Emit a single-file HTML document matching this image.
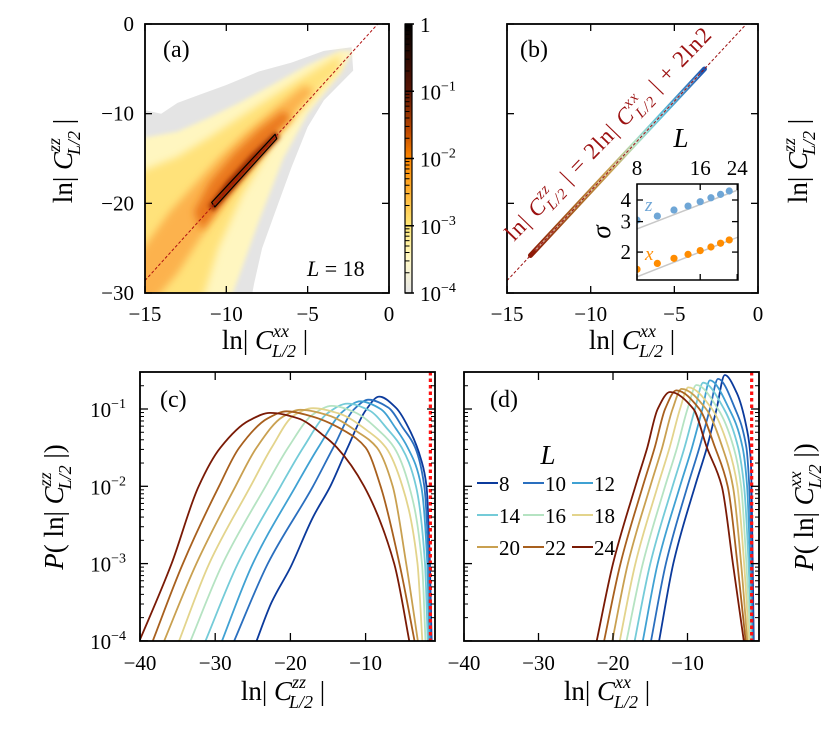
<!DOCTYPE html>
<html><head><meta charset="utf-8"><style>
html,body{margin:0;padding:0;background:#fff;}
svg{display:block;font-family:"Liberation Serif",serif;}
</style></head><body>
<svg id="fig" width="837" height="732" viewBox="0 0 837 732" xmlns="http://www.w3.org/2000/svg">
<defs>
<clipPath id="clipA"><rect x="145" y="24" width="244" height="269"/></clipPath>
<clipPath id="clipB"><rect x="507" y="24" width="251" height="269"/></clipPath>
<clipPath id="clipC"><rect x="140" y="372" width="295" height="269"/></clipPath>
<clipPath id="clipD"><rect x="464" y="372" width="295" height="269"/></clipPath>
<clipPath id="clipI"><rect x="637" y="184" width="101" height="96"/></clipPath>
<filter id="blur4" x="-20%" y="-20%" width="140%" height="140%"><feGaussianBlur stdDeviation="4"/></filter>
<filter id="blur2" x="-20%" y="-20%" width="140%" height="140%"><feGaussianBlur stdDeviation="2"/></filter>
<linearGradient id="cbar" x1="0" y1="0" x2="0" y2="1">
<stop offset="0" stop-color="#000"/><stop offset="0.25" stop-color="#5a1505"/><stop offset="0.4" stop-color="#c04a00"/><stop offset="0.5" stop-color="#ff8800"/><stop offset="0.62" stop-color="#ffb030"/><stop offset="0.75" stop-color="#ffe878"/><stop offset="0.88" stop-color="#fff8c8"/><stop offset="1" stop-color="#e6e6e6"/>
</linearGradient>
</defs>

<!-- Panel a -->
<g id="panelA">
<g id="heatA" clip-path="url(#clipA)"></g>
<rect x="145" y="24" width="244" height="269" fill="none" stroke="#000" stroke-width="1.8"/>
<g id="ticksA"></g>
<text x="163" y="57" font-size="24">(a)</text>
<text x="307" y="276" font-size="22"><tspan font-style="italic">L</tspan> = 18</text>
<text x="265" y="349" font-size="27" text-anchor="middle">ln| <tspan font-style="italic">C</tspan><tspan font-size="18" font-style="italic" dy="-12">xx</tspan><tspan font-size="18" font-style="italic" dx="-17" dy="20">L/2</tspan><tspan dy="-8"> |</tspan></text>
<text transform="translate(72,161) rotate(-90)" font-size="27" text-anchor="middle">ln| <tspan font-style="italic">C</tspan><tspan font-size="18" font-style="italic" dy="-12">zz</tspan><tspan font-size="18" font-style="italic" dx="-17" dy="20">L/2</tspan><tspan dy="-8"> |</tspan></text>
<rect x="405" y="24" width="7" height="269" fill="url(#cbar)" stroke="#000" stroke-width="1.2"/>
<g id="cbTicks"></g>
</g>

<!-- Panel b -->
<g id="panelB">
<g id="bandB" clip-path="url(#clipB)"></g>
<rect x="507" y="24" width="251" height="269" fill="none" stroke="#000" stroke-width="1.8"/>
<g id="ticksB"></g>
<text x="520" y="57" font-size="24">(b)</text>
<text transform="translate(514,242) rotate(-46)" font-size="23" fill="#9b1010" textLength="286" lengthAdjust="spacing">ln| <tspan font-style="italic">C</tspan><tspan font-size="15" font-style="italic" dy="-10">zz</tspan><tspan font-size="15" font-style="italic" dx="-14" dy="16">L/2</tspan><tspan dy="-6"> | = 2ln| </tspan><tspan font-style="italic">C</tspan><tspan font-size="15" font-style="italic" dy="-10">xx</tspan><tspan font-size="15" font-style="italic" dx="-14" dy="16">L/2</tspan><tspan dy="-6"> | + 2ln2</tspan></text>
<text x="632" y="349" font-size="27" text-anchor="middle">ln| <tspan font-style="italic">C</tspan><tspan font-size="18" font-style="italic" dy="-12">xx</tspan><tspan font-size="18" font-style="italic" dx="-17" dy="20">L/2</tspan><tspan dy="-8"> |</tspan></text>
<text transform="translate(807,161) rotate(-90)" font-size="27" text-anchor="middle">ln| <tspan font-style="italic">C</tspan><tspan font-size="18" font-style="italic" dy="-12">zz</tspan><tspan font-size="18" font-style="italic" dx="-17" dy="20">L/2</tspan><tspan dy="-8"> |</tspan></text>
<g id="inset">
<rect x="637" y="184" width="101" height="96" fill="#fff"/>
<g id="insetMarks" clip-path="url(#clipI)"></g>
<rect x="637" y="184" width="101" height="96" fill="none" stroke="#000" stroke-width="1.5"/>
<g id="ticksI"></g>
<text x="681" y="147" font-size="27" font-style="italic" text-anchor="middle">L</text>
<text transform="translate(610,232) rotate(-90)" font-size="27" font-style="italic" text-anchor="middle">σ</text>
<text x="645" y="211" font-size="19" font-style="italic" fill="#6fa6d6">z</text>
<text x="645" y="260" font-size="19" font-style="italic" fill="#ff8c00">x</text>
</g>
</g>

<!-- Panel c -->
<g id="panelC">
<g id="curvesC" clip-path="url(#clipC)"></g>
<rect x="140" y="372" width="295" height="269" fill="none" stroke="#000" stroke-width="1.8"/>
<g id="ticksC"></g>
<text x="160" y="407" font-size="24">(c)</text>
<text x="283" y="700" font-size="27" text-anchor="middle">ln| <tspan font-style="italic">C</tspan><tspan font-size="18" font-style="italic" dy="-12">zz</tspan><tspan font-size="18" font-style="italic" dx="-17" dy="20">L/2</tspan><tspan dy="-8"> |</tspan></text>
<text transform="translate(63,507) rotate(-90)" font-size="27" text-anchor="middle"><tspan font-style="italic">P</tspan>( ln| <tspan font-style="italic">C</tspan><tspan font-size="18" font-style="italic" dy="-12">zz</tspan><tspan font-size="18" font-style="italic" dx="-17" dy="20">L/2</tspan><tspan dy="-8"> |)</tspan></text>
</g>

<!-- Panel d -->
<g id="panelD">
<g id="curvesD" clip-path="url(#clipD)"></g>
<rect x="464" y="372" width="295" height="269" fill="none" stroke="#000" stroke-width="1.8"/>
<g id="ticksD"></g>
<text x="490" y="407" font-size="24">(d)</text>
<text x="607" y="700" font-size="27" text-anchor="middle">ln| <tspan font-style="italic">C</tspan><tspan font-size="18" font-style="italic" dy="-12">xx</tspan><tspan font-size="18" font-style="italic" dx="-17" dy="20">L/2</tspan><tspan dy="-8"> |</tspan></text>
<text transform="translate(813,507) rotate(-90)" font-size="27" text-anchor="middle"><tspan font-style="italic">P</tspan>( ln| <tspan font-style="italic">C</tspan><tspan font-size="18" font-style="italic" dy="-12">xx</tspan><tspan font-size="18" font-style="italic" dx="-17" dy="20">L/2</tspan><tspan dy="-8"> |)</tspan></text>
<g id="legend">
<text x="548" y="464" font-size="27" font-style="italic" text-anchor="middle">L</text>
</g>
</g>
</svg>
<script>
const NS="http://www.w3.org/2000/svg";
// ---- data ----
const L_VALUES=[8,10,12,14,16,18,20,22,24];
const L_COLORS=["#0b3a9c","#2a6fbf","#3fa1d3","#74cbd8","#b5e3c2","#e3d48c","#c9a050","#a8601e","#7a1a05"];
// panel c: [ln|Czz|, log10 P]
const zz_L8=[[-24.7,-4.05],[-22.5,-3.5],[-20,-3.05],[-17,-2.4],[-14.7,-2],[-12.4,-1.5],[-10,-1.02],[-8.2,-0.84],[-6,-0.98],[-4,-1.3],[-2.6,-1.66],[-1.9,-2],[-1.45,-3],[-1.2,-4.1]];
const zz_L10=[[-27.7,-4.05],[-23,-3],[-17,-2],[-14.3,-1.5],[-11.5,-1.0],[-9.6,-0.88],[-7,-0.98],[-5,-1.25],[-3.4,-1.5],[-2.2,-2],[-1.6,-3],[-1.3,-4.1]];
const zz_L12=[[-29.3,-4.05],[-25,-3],[-19.3,-2],[-16.3,-1.5],[-13,-1.03],[-10.7,-0.9],[-8,-1.0],[-6,-1.25],[-4.4,-1.5],[-2.6,-2],[-1.8,-3],[-1.5,-4.1]];
const zz_L14=[[-31.5,-4.05],[-27,-3],[-21.3,-2],[-18.3,-1.5],[-15,-1.05],[-12.4,-0.93],[-9.5,-1.02],[-7,-1.27],[-5.2,-1.5],[-3.3,-2],[-2.1,-3],[-1.7,-4.1]];
const zz_L16=[[-33.5,-4.05],[-29,-3],[-23.3,-2],[-20.3,-1.5],[-17,-1.07],[-14.5,-0.96],[-11.5,-1.04],[-8,-1.3],[-6.2,-1.5],[-4.2,-2],[-2.5,-3],[-2.0,-4.1]];
const zz_L18=[[-35,-4.05],[-30.8,-3],[-25.3,-2],[-22.5,-1.5],[-19.5,-1.08],[-17,-0.99],[-13.5,-1.06],[-9.5,-1.3],[-7.3,-1.5],[-5.1,-2],[-3.1,-3],[-2.4,-4.1]];
const zz_L20=[[-37,-4.05],[-32.5,-3],[-27.3,-2],[-24.5,-1.5],[-21,-1.1],[-18.7,-1.01],[-15,-1.08],[-11,-1.3],[-8.5,-1.5],[-6.4,-2],[-4.6,-3],[-2.9,-4.1]];
const zz_L22=[[-38.5,-4.05],[-34.3,-3],[-29.5,-2],[-26.8,-1.5],[-23,-1.12],[-20.5,-1.03],[-17,-1.1],[-12.5,-1.3],[-10,-1.5],[-8,-2],[-5.5,-3],[-3.3,-4.1]];
const zz_L24=[[-40.5,-4.1],[-35.8,-3],[-32.2,-2],[-29.3,-1.5],[-25.5,-1.15],[-22.7,-1.05],[-19,-1.12],[-15.5,-1.35],[-13.8,-1.5],[-10.2,-2],[-6.2,-3],[-4.0,-4.1]];
// panel d: [ln|Cxx|, log10 P]
const xx_L8=[[-13.9,-4.05],[-11.9,-3],[-9,-2],[-7.4,-1.5],[-6.1,-1.0],[-5,-0.56],[-3.4,-0.79],[-2.1,-1.23],[-1.5,-1.66],[-1.25,-3],[-1.1,-4.1]];
const xx_L10=[[-15,-4.05],[-12.9,-3],[-10,-2],[-8.4,-1.5],[-7.0,-1.0],[-5.9,-0.61],[-3.6,-1.0],[-2.1,-1.5],[-1.7,-2],[-1.4,-3],[-1.2,-4.1]];
const xx_L12=[[-16.1,-4.05],[-14,-3],[-11,-2],[-9.4,-1.5],[-8.0,-1.0],[-7.0,-0.63],[-4.4,-1.0],[-2.6,-1.5],[-2.0,-2],[-1.6,-3],[-1.3,-4.1]];
const xx_L14=[[-17.2,-4.05],[-15,-3],[-12,-2],[-10.4,-1.5],[-9.0,-1.0],[-7.9,-0.66],[-5.1,-1.0],[-3.2,-1.5],[-2.4,-2],[-1.8,-3],[-1.4,-4.1]];
const xx_L16=[[-18.3,-4.05],[-16,-3],[-13,-2],[-11.4,-1.5],[-10.0,-1.0],[-8.8,-0.69],[-5.9,-1.0],[-3.8,-1.5],[-2.8,-2],[-2.1,-3],[-1.5,-4.1]];
const xx_L18=[[-19.2,-4.05],[-17,-3],[-14,-2],[-12.4,-1.5],[-11.0,-1.0],[-9.9,-0.72],[-6.7,-1.0],[-4.5,-1.5],[-3.3,-2],[-2.4,-3],[-1.7,-4.1]];
const xx_L20=[[-20.2,-4.05],[-18,-3],[-15,-2],[-13.4,-1.5],[-12.0,-1.0],[-10.8,-0.74],[-7.5,-1.0],[-5.3,-1.5],[-3.9,-2],[-2.8,-3],[-1.9,-4.1]];
const xx_L22=[[-21.3,-4.05],[-19,-3],[-16,-2],[-14.4,-1.5],[-13.0,-1.0],[-11.5,-0.76],[-8.4,-1.0],[-6.3,-1.5],[-4.6,-2],[-3.3,-3],[-2.1,-4.1]];
const xx_L24=[[-22.3,-4.05],[-20,-3],[-17,-2],[-15.4,-1.5],[-14.0,-1.0],[-12.35,-0.78],[-9.2,-1.0],[-7.4,-1.5],[-5.4,-2],[-3.9,-3],[-2.3,-4.1]];
const ZZ=[zz_L8,zz_L10,zz_L12,zz_L14,zz_L16,zz_L18,zz_L20,zz_L22,zz_L24];
const XX=[xx_L8,xx_L10,xx_L12,xx_L14,xx_L16,xx_L18,xx_L20,xx_L22,xx_L24];
// inset
const INSET_L=[8,10,12,14,16,18,20,22];
const SIGMA_Z=[3.06,3.23,3.50,3.69,3.91,4.12,4.31,4.51];
const SIGMA_X=[1.59,1.72,1.84,1.94,2.04,2.14,2.25,2.35];
const FIT_L=[8,24.2];
const FIT_Z=[2.72,4.57];
const FIT_X=[1.44,2.44];
// ticks
const A_XTICKS=[-15,-10,-5,0];
const A_YTICKS=[0,-10,-20,-30];
const CB_DECADES=[0,-1,-2,-3,-4];
const CB_LABELS=["1","10","10","10","10"];
const CB_EXP=["","−1","−2","−3","−4"];
const CD_XTICKS=[-40,-30,-20,-10];
const CD_YDECADES=[-1,-2,-3,-4];
const INSET_XTICKS=[8,16,24];
const INSET_YTICKS=[2,3,4];
const REL_SLOPE=2, REL_OFFSET=2*Math.log(2);
const DOTTED_X=-Math.log(4);
// ---- scales ----
const ax=x=>389+x*16.27, ay=y=>24-y*8.967;
const bx=x=>758+x*16.73, by=ay;
const cx=x=>140+(x+40)*7.52, cy=l=>409-(l+1)*77.3;
const dx=x=>464+(x+40)*7.45, dy=cy;
const ix=L=>637+210*Math.log10(L/8), iy=s=>200-173*(Math.log10(s)-Math.log10(4));
function mk(tag,attrs,parent){const e=document.createElementNS(NS,tag);for(const k in attrs)e.setAttribute(k,attrs[k]);parent.appendChild(e);return e;}
// monotone cubic (Fritsch-Carlson) through pixel points sorted by x
function smooth(p){const n=p.length,d=[],m=[];
 for(let i=0;i<n-1;i++)d.push((p[i+1][1]-p[i][1])/(p[i+1][0]-p[i][0]));
 m[0]=d[0];m[n-1]=d[n-2];
 for(let i=1;i<n-1;i++){if(d[i-1]*d[i]<=0)m[i]=0;else{const h0=p[i][0]-p[i-1][0],h1=p[i+1][0]-p[i][0];const w1=2*h1+h0,w2=h1+2*h0;m[i]=(w1+w2)/(w1/d[i-1]+w2/d[i]);}}
 let s="M"+p[0][0].toFixed(1)+","+p[0][1].toFixed(1);
 for(let i=0;i<n-1;i++){const h=(p[i+1][0]-p[i][0])/3;
  s+="C"+(p[i][0]+h).toFixed(1)+","+(p[i][1]+m[i]*h).toFixed(1)+" "+(p[i+1][0]-h).toFixed(1)+","+(p[i+1][1]-m[i+1]*h).toFixed(1)+" "+p[i+1][0].toFixed(1)+","+p[i+1][1].toFixed(1);}
 return s;}
function tick(g,x1,y1,x2,y2,w){const t=mk("line",{x1,y1,x2,y2,stroke:"#000","stroke-width":w||1.3},g);

}
function label(g,x,y,txt,anchor,fs,exp){const t=mk("text",{x,y,"font-size":fs||21,"text-anchor":anchor||"middle"},g);t.textContent=txt;
 if(exp){const s=mk("tspan",{"font-size":14,dy:-9},t);s.textContent=exp;}

return t;}
// ---- panel a heatmap ----
const hA=document.getElementById("heatA");
function poly(g,pts,fill,filter,name){const p=mk("polygon",{points:pts.map(q=>ax(q[0]).toFixed(1)+","+ay(q[1]).toFixed(1)).join(" "),fill},g);if(filter)p.setAttribute("filter",filter);

}
poly(hA,[[-15,-9.6],[-14,-10],[-13,-8.8],[-11.5,-7.8],[-10,-6.8],[-8,-5.3],[-6,-4.3],[-4,-3],[-2.3,-2.6],[-2.2,-5.2],[-4,-8.5],[-5,-11.5],[-6,-16],[-7,-21],[-7.8,-25],[-8.3,-29],[-8.5,-31],[-16,-31],[-16,-9.6]],"#e4e4e4",null,"heatmap-sparse-region");
poly(hA,[[-16,-13],[-13,-12],[-11,-10.4],[-9,-8.6],[-7,-6.6],[-5,-4.6],[-3,-3],[-2.2,-3],[-3,-5.5],[-5,-10],[-6.5,-15],[-8,-22],[-9,-27],[-9.8,-31],[-16,-31]],"#fff6c0","url(#blur2)","heatmap-low-density");
poly(hA,[[-16,-17],[-13,-14.8],[-11,-12.6],[-9,-10.2],[-7,-7.9],[-5,-5.6],[-3,-3.4],[-3,-5.0],[-5,-8.8],[-7,-13],[-9,-19],[-10.5,-25],[-11.5,-31],[-16,-31]],"#ffe27a","url(#blur4)","heatmap-mid-density");
poly(hA,[[-15.5,-26],[-13.5,-21],[-12,-18],[-10.5,-15],[-9,-12.4],[-7,-9.4],[-5.2,-6.8],[-4.6,-7.4],[-6,-10.4],[-8,-14.8],[-10,-19.6],[-11.5,-23.6],[-13,-27.8],[-14.5,-31],[-15.5,-31]],"#fcb24e","url(#blur4)","heatmap-high-density");
poly(hA,[[-12,-21],[-11,-17.6],[-9.5,-14.4],[-8,-11.8],[-6.5,-9.7],[-6,-10.4],[-7.5,-13.3],[-9,-16.8],[-10.5,-20.6],[-11.5,-23]],"#ea781e","url(#blur4)","heatmap-peak-density");
poly(hA,[[-11.1,-20.3],[-10,-17.6],[-8.5,-14.6],[-7,-12.0],[-6.7,-12.6],[-8,-15.2],[-9.5,-18.3],[-10.8,-20.9]],"#9a2a06","url(#blur2)","heatmap-core");
{const c=mk("path",{d:"M"+ax(-10.9)+","+ay(-19.9)+" L"+ax(-7.0)+","+ay(-12.3)+" L"+ax(-6.9)+","+ay(-12.8)+" L"+ax(-10.7)+","+ay(-20.4)+"Z",fill:"none",stroke:"#000","stroke-width":1.2,"stroke-linejoin":"round"},hA);

}
{const l=mk("line",{x1:ax(-15),y1:ay(REL_SLOPE*-15+REL_OFFSET),x2:ax(-REL_OFFSET/REL_SLOPE),y2:ay(0),stroke:"#b01010","stroke-width":1,"stroke-dasharray":"3,2"},hA);

}
const gA=document.getElementById("ticksA");
A_XTICKS.forEach(v=>{tick(gA,ax(v),293,ax(v),286);tick(gA,ax(v),24,ax(v),31);label(gA,ax(v),321,(v<0?"−":"")+Math.abs(v));});
A_YTICKS.forEach(v=>{tick(gA,145,ay(v),152,ay(v));tick(gA,389,ay(v),382,ay(v));label(gA,134,ay(v)+7,(v<0?"−":"")+Math.abs(v),"end");});
const gCB=document.getElementById("cbTicks");
const cbY=l=>24-l*(269/4);
CB_DECADES.forEach((dd,i)=>{tick(gCB,405,cbY(dd),414,cbY(dd),1.5);label(gCB,420,cbY(dd)+8,CB_LABELS[i],"start",21,CB_EXP[i]);
 if(dd>-4)for(let m=2;m<10;m++){const yy=cbY(dd-1+Math.log10(m));tick(gCB,405,yy,409.5,yy,1);}});
// ---- panel b ----
const gBand=document.getElementById("bandB");
{const x0=-13.6,x1=-3.2;
 const grad=mk("linearGradient",{id:"bandGrad",gradientUnits:"userSpaceOnUse",x1:bx(x0),y1:by(2*x0+REL_OFFSET),x2:bx(x1),y2:by(2*x1+REL_OFFSET)},document.querySelector("defs"));
 [["0","#8b1a05"],["0.25","#a8601e"],["0.45","#c9a050"],["0.6","#b5e3c2"],["0.75","#60c0d8"],["1","#1d55b0"]].forEach(s=>mk("stop",{offset:s[0],"stop-color":s[1]},grad));
 const band=mk("line",{x1:bx(x0),y1:by(2*x0+REL_OFFSET),x2:bx(x1),y2:by(2*x1+REL_OFFSET),stroke:"url(#bandGrad)","stroke-width":5,"stroke-linecap":"round"},gBand);
 
 
 const inner=mk("line",{x1:bx(x0+0.3),y1:by(2*(x0+0.3)+REL_OFFSET),x2:bx(x1-0.3),y2:by(2*(x1-0.3)+REL_OFFSET),stroke:"#fff","stroke-opacity":0.55,"stroke-width":1.6,"stroke-linecap":"round"},gBand);
 
 }
{const l=mk("line",{x1:bx(-15),y1:by(REL_SLOPE*-15+REL_OFFSET),x2:bx(-REL_OFFSET/REL_SLOPE),y2:by(0),stroke:"#9b1010","stroke-width":1,"stroke-dasharray":"3,2"},gBand);

}
const gB=document.getElementById("ticksB");
A_XTICKS.forEach(v=>{tick(gB,bx(v),293,bx(v),286);tick(gB,bx(v),24,bx(v),31);label(gB,bx(v),321,(v<0?"−":"")+Math.abs(v));});
A_YTICKS.forEach(v=>{tick(gB,507,by(v),514,by(v));tick(gB,758,by(v),751,by(v));});
// inset
const gIM=document.getElementById("insetMarks");
{const f1=mk("line",{x1:ix(FIT_L[0]),y1:iy(FIT_Z[0]),x2:ix(FIT_L[1]),y2:iy(FIT_Z[1]),stroke:"#c8c8c8","stroke-width":1.5},gIM);


const f2=mk("line",{x1:ix(FIT_L[0]),y1:iy(FIT_X[0]),x2:ix(FIT_L[1]),y2:iy(FIT_X[1]),stroke:"#c8c8c8","stroke-width":1.5},gIM);

}
INSET_L.forEach((L,i)=>{const p=mk("circle",{cx:ix(L),cy:iy(SIGMA_Z[i]),r:3.6,fill:"#6fa6d6"},gIM);


const q=mk("circle",{cx:ix(L),cy:iy(SIGMA_X[i]),r:3.6,fill:"#ff8c00"},gIM);

});
const gI=document.getElementById("ticksI");
INSET_XTICKS.forEach(v=>{tick(gI,ix(v),184,ix(v),190);tick(gI,ix(v),280,ix(v),274);label(gI,ix(v),175,String(v),"middle",21);});
INSET_YTICKS.forEach(v=>{tick(gI,637,iy(v),643,iy(v));tick(gI,738,iy(v),732,iy(v));label(gI,631,iy(v)+7,String(v),"end",21);});
// ---- panels c, d ----
function drawCurves(gid,data,sx,sy,name){const g=document.getElementById(gid);
 data.forEach((arr,i)=>{const p=mk("path",{d:smooth(arr.map(q=>[sx(q[0]),sy(q[1])])),fill:"none",stroke:L_COLORS[i],"stroke-width":1.8,"stroke-linejoin":"round"},g);
 
 });
 const r=mk("line",{x1:sx(DOTTED_X),y1:372,x2:sx(DOTTED_X),y2:641,stroke:"#ff1010","stroke-width":3.2,"stroke-dasharray":"3.5,3"},g);
 
 }
drawCurves("curvesC",ZZ,cx,cy,"zz-curve");
drawCurves("curvesD",XX,dx,dy,"xx-curve");
function ticksCD(gid,sx,x0,x1,withLabels){const g=document.getElementById(gid);
 CD_XTICKS.forEach(v=>{tick(g,sx(v),641,sx(v),633);tick(g,sx(v),372,sx(v),380);label(g,sx(v),670,"−"+Math.abs(v));});
 CD_YDECADES.forEach(dd=>{const y=cy(dd);tick(g,x0,y,x0+8,y);tick(g,x1,y,x1-8,y);
  if(withLabels)label(g,126,y+8,"10","end",21,"−"+Math.abs(dd));
  for(let m=2;m<10;m++){const yy=cy(dd+Math.log10(m));if(yy<372)continue;tick(g,x0,yy,x0+4,yy,1);tick(g,x1,yy,x1-4,yy,1);}});}
ticksCD("ticksC",cx,140,435,true);
ticksCD("ticksD",dx,464,759,false);
// legend
const gL=document.getElementById("legend");
const LEG_X=[477,523,572], LEG_Y=[484,516,548];
L_VALUES.forEach((L,i)=>{const x=LEG_X[i%3],y=LEG_Y[Math.floor(i/3)];
 const ln=mk("line",{x1:x,y1:y-1,x2:x+21,y2:y-1,stroke:L_COLORS[i],"stroke-width":2},gL);
 
 
 const t=mk("text",{x:x+22,y:y+7,"font-size":21},gL);t.textContent=String(L);
 
 });
</script>
</body></html>
